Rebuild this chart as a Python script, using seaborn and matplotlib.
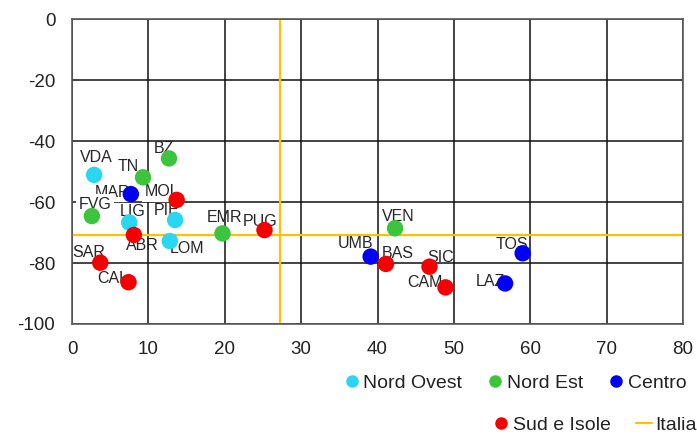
import numpy as np
import pandas as pd
import matplotlib.pyplot as plt
import seaborn as sns
from matplotlib.lines import Line2D

regions = ["VDA", "BZ", "TN", "MAR", "MOL", "FVG", "LIG", "PIE", "ABR", "LOM", "EMR",
           "PUG", "SAR", "CAL", "VEN", "UMB", "BAS", "SIC", "CAM", "TOS", "LAZ"]
x_vals = [2.9, 12.7, 9.3, 7.7, 13.7, 2.6, 7.5, 13.5, 8.1, 12.8, 19.7,
          25.2, 3.7, 7.4, 42.3, 39.1, 41.1, 46.8, 48.9, 59.0, 56.7]
y_vals = [-51.1, -45.7, -51.9, -57.4, -59.3, -64.6, -66.7, -65.9, -70.8, -72.8, -70.3,
          -69.2, -79.9, -86.3, -68.6, -77.9, -80.3, -81.2, -88.0, -76.8, -86.7]
areas = ["Nord Ovest", "Nord Est", "Nord Est", "Centro", "Sud e Isole", "Nord Est",
         "Nord Ovest", "Nord Ovest", "Sud e Isole", "Nord Ovest", "Nord Est",
         "Sud e Isole", "Sud e Isole", "Sud e Isole", "Nord Est", "Centro",
         "Sud e Isole", "Sud e Isole", "Sud e Isole", "Centro", "Centro"]
italia_x = 27.2
italia_y = -70.8

# label offsets in pixels (dx, dy)
offsets = {"VDA": (2, 17), "BZ": (-5, 10), "TN": (-15, 11), "MAR": (-18, 2), "MOL": (-15, 8),
           "FVG": (3, 12), "LIG": (3, 11), "PIE": (-8, 10), "ABR": (8, -11), "LOM": (17, -7),
           "EMR": (2, 16), "PUG": (-4, 9), "SAR": (-12, 10), "CAL": (-16, 4), "VEN": (3, 12),
           "UMB": (-15, 13), "BAS": (12, 10), "SIC": (11, 9), "CAM": (-21, 5), "TOS": (-11, 9),
           "LAZ": (-15, 2)}
white_box = ["MAR", "MOL", "FVG"]

palette = {"Nord Ovest": "#2ad6f0", "Nord Est": "#3cc43c", "Centro": "#0000f5", "Sud e Isole": "#f50000"}

df = pd.DataFrame({"region": regions, "x": x_vals, "y": y_vals, "area": areas})

sns.set_style("white")
plt.rcParams['font.family'] = ['Liberation Sans', 'DejaVu Sans']
plt.rcParams['axes.unicode_minus'] = False

fig, ax = plt.subplots(figsize=(6.97, 4.34), dpi=100)
fig.subplots_adjust(left=0.1033, right=0.980, top=0.956, bottom=0.2535)

for r, xx, yy in zip(regions, x_vals, y_vals):
    dx, dy = offsets[r]
    kw = {}
    if r in white_box:
        kw["bbox"] = dict(facecolor="white", edgecolor="none", pad=2)
    ax.annotate(r, (xx, yy), xytext=(dx, dy), textcoords="offset pixels",
                ha="center", va="center", fontsize=11.5, color="#262626", zorder=3, **kw)

sns.scatterplot(data=df, x="x", y="y", hue="area", palette=palette, s=140,
                edgecolor="none", legend=False, ax=ax, zorder=4)

ax.axvline(italia_x, color="#ffc000", lw=1.6, zorder=2)
ax.axhline(italia_y, color="#ffc000", lw=1.6, zorder=2)

ax.set_xlim(0, 80)
ax.set_ylim(-100, 0)
ax.set_xticks(np.arange(0, 81, 10))
ax.set_yticks(np.arange(-100, 1, 20))
ax.grid(True, color="#111111", lw=1.1, zorder=1)
ax.set_axisbelow(True)
for s in ax.spines.values():
    s.set_color("#5a5a5a")
    s.set_linewidth(1.2)
ax.tick_params(axis="both", length=0, labelsize=13.5, labelcolor="#222222")
ax.tick_params(axis="x", pad=12)
ax.tick_params(axis="y", pad=12)
ax.set_xlabel("")
ax.set_ylabel("")

def dot(c):
    return Line2D([], [], marker="o", ls="none", color=c, markersize=9, markeredgewidth=0)

row1 = [dot(palette["Nord Ovest"]), dot(palette["Nord Est"]), dot(palette["Centro"])]
leg1 = fig.legend(row1, ["Nord Ovest", "Nord Est", "Centro"], loc="center right",
                  bbox_to_anchor=(0.985, 0.1175), ncol=3, frameon=False, fontsize=14,
                  handlelength=0.8, handletextpad=0.2, columnspacing=1.3, borderaxespad=0,
                  borderpad=0)
row2 = [dot(palette["Sud e Isole"]), Line2D([], [], color="#ffc000", lw=1.6)]
leg2 = fig.legend(row2, ["Sud e Isole", "Italia"], loc="center right",
                  bbox_to_anchor=(1.0, 0.0207), ncol=2, frameon=False, fontsize=14,
                  handlelength=0.8, handletextpad=0.2, columnspacing=1.3, borderaxespad=0,
                  borderpad=0)
for leg in (leg1, leg2):
    for t in leg.get_texts():
        t.set_color("#222222")

fig.savefig("out.png", dpi=100)
